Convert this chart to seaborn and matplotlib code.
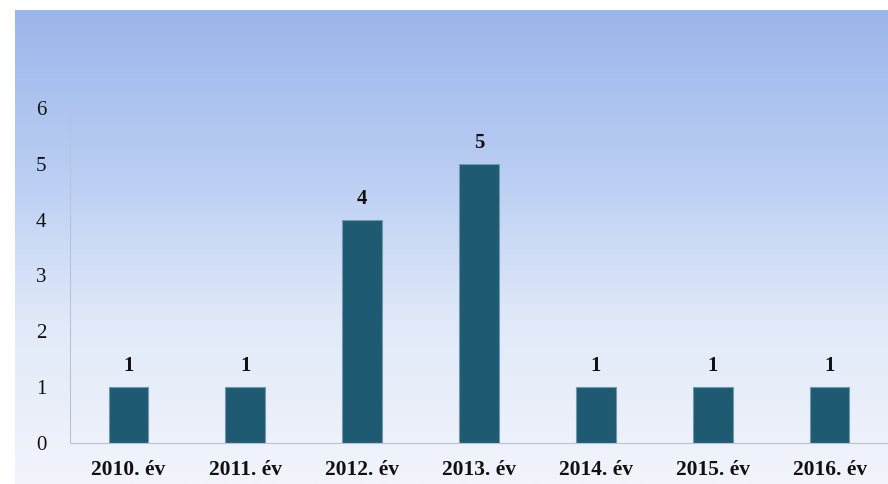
import numpy as np
import pandas as pd
import seaborn as sns
import matplotlib.pyplot as plt
from matplotlib.colors import LinearSegmentedColormap

# chart data
years = ['2010. év', '2011. év', '2012. év', '2013. év', '2014. év', '2015. év', '2016. év']
counts = [1, 1, 4, 5, 1, 1, 1]

df = pd.DataFrame({'year': years, 'count': counts})

sns.set_style('white')
plt.rcParams['font.family'] = ['Liberation Serif', 'DejaVu Serif']

fig = plt.figure(figsize=(8.88, 4.84), dpi=100)

# gradient background panel
bg = fig.add_axes([15 / 888, 0, 1 - 15 / 888, 1 - 10 / 484])
grad = np.linspace(0, 1, 256).reshape(-1, 1)
cmap = LinearSegmentedColormap.from_list('bg', ['#9bb6ea', '#b9cdf3', '#e2eaf9', '#f1f4fb'])
bg.imshow(grad, aspect='auto', cmap=cmap, extent=[0, 1, 0, 1], origin='upper')
bg.set_axis_off()

ax = fig.add_axes([70 / 888, 1 - 443 / 484, 1 - 70 / 888, (443 - 108) / 484])
ax.patch.set_alpha(0)
sns.barplot(data=df, x='year', y='count', color='#1e5a71', width=0.34,
            edgecolor='#6f9ab0', linewidth=0.8, saturation=1, ax=ax)

ax.set_ylim(0, 6)
ax.set_xlim(-0.5, len(years) - 0.5)
ax.set_yticks(range(0, 7))
ax.set_xlabel('')
ax.set_ylabel('')
ax.tick_params(axis='y', length=0, pad=17, labelsize=15, labelcolor='#111111')
ax.tick_params(axis='x', length=0, pad=12, labelsize=15.5, labelcolor='#111111')
for lbl in ax.get_xticklabels():
    lbl.set_fontweight('bold')

for s in ['top', 'right']:
    ax.spines[s].set_visible(False)
ax.spines['left'].set_color('#b8c3d8')
ax.spines['bottom'].set_color('#b8c3d8')

ax.bar_label(ax.containers[0], labels=[str(c) for c in counts], padding=8,
             fontsize=15, fontweight='bold', color='#111111')

plt.savefig('out.png', dpi=100)
